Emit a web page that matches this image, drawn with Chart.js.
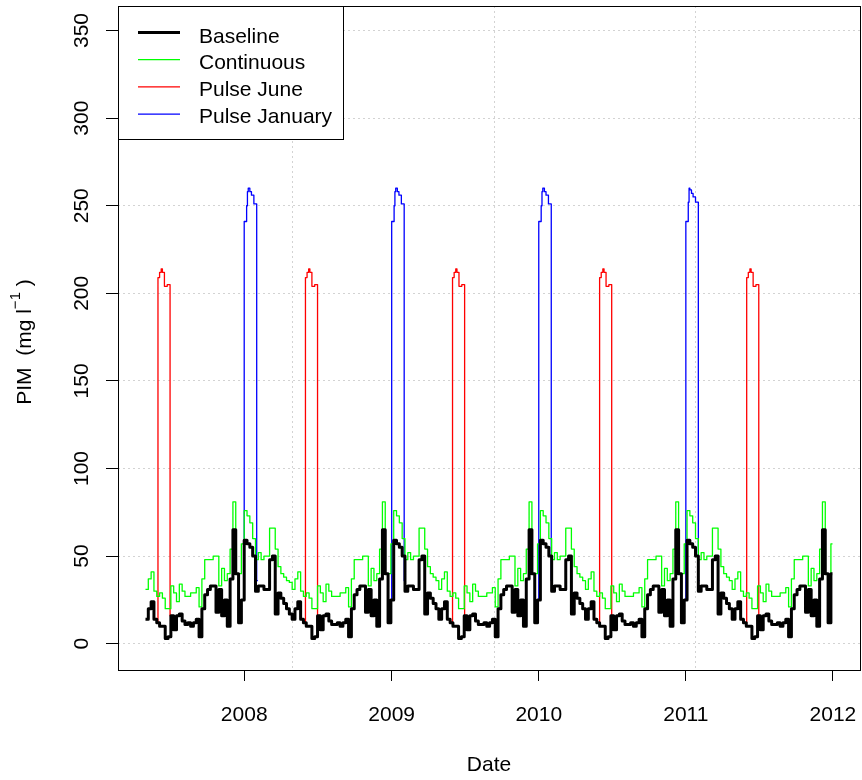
<!DOCTYPE html>
<html>
<head>
  <title>PIM scenarios</title>
  <script src="https://cdn.jsdelivr.net/npm/chart.js"></script>
  <style>
    body { margin: 0; background: #fff; }
    #wrap { width: 862px; height: 780px; }
  </style>
</head>
<body>
<div id="wrap"><canvas id="pim" width="862" height="780"></canvas></div>
<script>
// weekly values, first week starts on 1 May 2007, series stops 31 Dec 2011
var weekStart = '2007-05-01';
var seriesEnd = '2011-12-31';

var baseline = [
  // May 2007 - Apr 2008
  14, 20, 24, 14, 12, 10, 10, 3, 4, 16, 8, 16, 17, 13, 11, 12, 10, 12, 14, 4, 20, 28, 31, 33, 33, 18,
  31, 16, 25, 10, 37, 65, 40, 12, 25, 59, 57, 55, 50, 30, 33, 33, 31, 31, 48, 50, 17, 29, 26, 23, 20, 17,
  // May 2008 - Apr 2009
  14, 20, 24, 14, 12, 10, 10, 3, 4, 16, 8, 16, 17, 13, 11, 11, 12, 10, 12, 14, 4, 20, 28, 31, 33, 33,
  18, 31, 16, 25, 10, 37, 65, 40, 12, 25, 59, 57, 55, 50, 30, 33, 33, 31, 31, 48, 50, 17, 29, 26, 23, 20,
  // May 2009 - Apr 2010
  14, 20, 24, 14, 12, 10, 10, 3, 4, 16, 8, 16, 17, 13, 11, 11, 12, 10, 12, 14, 4, 20, 28, 31, 33, 33,
  18, 31, 16, 25, 10, 37, 65, 40, 12, 25, 59, 57, 55, 50, 30, 33, 33, 31, 31, 48, 50, 17, 29, 26, 23, 20,
  // May 2010 - Apr 2011
  14, 20, 24, 14, 12, 10, 10, 3, 4, 16, 8, 16, 17, 13, 11, 11, 12, 10, 12, 14, 4, 20, 28, 31, 33, 33,
  18, 31, 16, 25, 10, 37, 65, 40, 12, 25, 59, 57, 55, 50, 30, 33, 33, 31, 31, 48, 50, 17, 29, 26, 23, 20,
  // May 2011 - Dec 2011
  14, 20, 24, 14, 12, 10, 10, 3, 4, 16, 8, 16, 17, 13, 11, 11, 12, 10, 12, 14, 4, 20, 28, 31, 33, 33,
  18, 31, 16, 25, 10, 37, 65, 40, 12, 40
];

var continuous = [
  // May 2007 - Apr 2008
  31, 37, 41, 30, 27, 29, 26, 20, 20, 33, 29, 24, 34, 30, 27, 27, 29, 29, 32, 21, 37, 48, 48, 48, 50, 50,
  33, 43, 36, 40, 54, 81, 40, 40, 57, 76, 73, 69, 60, 48, 52, 48, 50, 50, 66, 66, 54, 44, 40, 38, 36, 35,
  // May 2008 - Apr 2009
  31, 37, 41, 30, 27, 29, 26, 20, 20, 33, 29, 24, 34, 30, 27, 27, 27, 29, 29, 32, 21, 37, 48, 48, 48, 50,
  50, 33, 43, 36, 40, 54, 81, 40, 40, 57, 76, 73, 69, 60, 48, 52, 48, 50, 50, 66, 66, 54, 44, 40, 38, 36,
  // May 2009 - Apr 2010
  31, 37, 41, 30, 27, 29, 26, 20, 20, 33, 29, 24, 34, 30, 27, 27, 27, 29, 29, 32, 21, 37, 48, 48, 48, 50,
  50, 33, 43, 36, 40, 54, 81, 40, 40, 57, 76, 73, 69, 60, 48, 52, 48, 50, 50, 66, 66, 54, 44, 40, 38, 36,
  // May 2010 - Apr 2011
  31, 37, 41, 30, 27, 29, 26, 20, 20, 33, 29, 24, 34, 30, 27, 27, 27, 29, 29, 32, 21, 37, 48, 48, 48, 50,
  50, 33, 43, 36, 40, 54, 81, 40, 40, 57, 76, 73, 69, 60, 48, 52, 48, 50, 50, 66, 66, 54, 44, 40, 38, 36,
  // May 2011 - Dec 2011
  31, 37, 41, 30, 27, 29, 26, 20, 20, 33, 29, 24, 34, 30, 27, 27, 27, 29, 29, 32, 21, 37, 48, 48, 48, 50,
  50, 33, 43, 36, 40, 54, 81, 40, 29, 57
];

// pulse scenarios: only the pulse month differs from the baseline
var juneStarts = ['2007-06-01', '2008-06-01', '2009-06-01', '2010-06-01', '2011-06-01'];
var juneDays = [-3, 0, 4, 8, 11, 16, 23, 30, 33];
var juneValues = [
  [12, 209, 212, 214, 212, 204, 205, 16, 16],
  [12, 209, 212, 214, 212, 204, 205, 16, 16],
  [12, 209, 212, 214, 212, 204, 205, 16, 16],
  [12, 209, 212, 214, 212, 204, 205, 16, 16],
  [12, 209, 212, 214, 212, 204, 205, 16, 16]
];

var janStarts = ['2008-01-01', '2009-01-01', '2010-01-01', '2011-01-01'];
var janDays = [-3, 0, 6, 8, 10, 14, 18, 24, 31, 34];
var janValues = [
  [25, 241, 250, 258, 260, 258, 256, 251, 36, 36],
  [25, 241, 250, 258, 260, 258, 256, 251, 36, 36],
  [25, 241, 250, 258, 260, 258, 256, 251, 36, 36],
  [25, 241, 252, 260, 259, 257, 255, 252, 36, 36]
];

var yearTicks = ['2008-01-01', '2009-01-01', '2010-01-01', '2011-01-01', '2012-01-01'];
var yearLabels = ['2008', '2009', '2010', '2011', '2012'];
var gridDays = [14000, 14500, 15000];   // R grid(): pretty values of days since 1970
var yTicks = [0, 50, 100, 150, 200, 250, 300, 350];
var yTickLabels = ['0', '50', '100', '150', '200', '250', '300', '350'];

var FONT = '"Liberation Sans", Arial, sans-serif';

function day(s) {
  return Date.parse(s) / 86400000;
}

function weekly(vals) {
  var t0 = day(weekStart);
  var pts = vals.map(function (v, i) { return {x: t0 + 7 * i, y: v}; });
  pts.push({x: day(seriesEnd), y: vals[vals.length - 1]});
  return pts;
}

function pulses(starts, offsets, rows) {
  var pts = [];
  starts.forEach(function (s, k) {
    var d0 = day(s);
    offsets.forEach(function (o, j) { pts.push({x: d0 + o, y: rows[k][j]}); });
    pts.push({x: d0 + offsets[offsets.length - 1] + 1, y: null});
  });
  return pts;
}

var first = day(weekStart), last = day(seriesEnd);
var xPad = 0.04 * (last - first);

var extras = {
  id: 'extras',
  afterDraw: function (chart) {
    var ctx = chart.ctx, a = chart.chartArea, xs = chart.scales.x, ys = chart.scales.y;
    ctx.save();

    // plot frame
    ctx.strokeStyle = '#000';
    ctx.lineWidth = 1;
    ctx.strokeRect(a.left + 0.5, a.top + 0.5, a.right - a.left, a.bottom - a.top);

    ctx.fillStyle = '#000';
    ctx.font = '21px ' + FONT;
    ctx.textAlign = 'center';
    ctx.textBaseline = 'middle';

    // x tick labels
    yearTicks.forEach(function (d, i) {
      ctx.fillText(yearLabels[i], xs.getPixelForValue(day(d)), a.bottom + 45);
    });

    // y tick labels, parallel to the axis
    yTicks.forEach(function (v, i) {
      ctx.save();
      ctx.translate(a.left - 36, ys.getPixelForValue(v));
      ctx.rotate(-Math.PI / 2);
      ctx.fillText(yTickLabels[i], 0, 0);
      ctx.restore();
    });

    // y title with superscript
    var p1 = 'PIM  (mg l', p2 = '\u22121', p3 = ' )';
    var w1 = ctx.measureText(p1).width, w3 = ctx.measureText(p3).width;
    ctx.font = '15px ' + FONT;
    var w2 = ctx.measureText(p2).width;
    ctx.save();
    ctx.translate(25, (a.top + a.bottom) / 2 + 4);
    ctx.rotate(-Math.PI / 2);
    ctx.textAlign = 'left';
    var sx = -(w1 + w2 + w3) / 2;
    ctx.font = '21px ' + FONT;
    ctx.fillText(p1, sx, 0);
    ctx.font = '15px ' + FONT;
    ctx.fillText(p2, sx + w1, -9);
    ctx.font = '21px ' + FONT;
    ctx.fillText(p3, sx + w1 + w2, 0);
    ctx.restore();

    // legend, top left inside the frame
    var L = a.left, T = a.top;
    ctx.fillStyle = '#fff';
    ctx.fillRect(L, T, 225, 133);
    ctx.strokeStyle = '#000';
    ctx.lineWidth = 1;
    ctx.strokeRect(L + 0.5, T + 0.5, 225, 133);
    ctx.font = '21px ' + FONT;
    ctx.textAlign = 'left';
    ctx.textBaseline = 'middle';
    chart.data.datasets.forEach(function (ds, i) {
      var ly = T + 26.5 + 27.2 * i;
      ctx.strokeStyle = ds.borderColor;
      ctx.lineWidth = ds.borderWidth;
      ctx.beginPath();
      ctx.moveTo(L + 20, ly);
      ctx.lineTo(L + 62, ly);
      ctx.stroke();
      ctx.fillStyle = '#000';
      ctx.fillText(ds.label, L + 81, T + 31 + 26.6 * i);
    });

    ctx.restore();
  }
};

Chart.defaults.font.family = FONT;

new Chart(document.getElementById('pim'), {
  type: 'line',
  data: {
    datasets: [
      {label: 'Baseline', data: weekly(baseline), borderColor: '#000000', borderWidth: 3},
      {label: 'Continuous', data: weekly(continuous), borderColor: '#00ff00', borderWidth: 1.3},
      {label: 'Pulse June', data: pulses(juneStarts, juneDays, juneValues), borderColor: '#ff0000', borderWidth: 1.3},
      {label: 'Pulse January', data: pulses(janStarts, janDays, janValues), borderColor: '#0000ff', borderWidth: 1.3}
    ]
  },
  options: {
    responsive: false,
    animation: false,
    devicePixelRatio: 1,
    layout: {padding: {top: 6, right: 2, left: 0, bottom: 0}},
    elements: {
      point: {radius: 0},
      line: {stepped: 'before', tension: 0, fill: false, borderJoinStyle: 'round'}
    },
    spanGaps: false,
    plugins: {
      legend: {display: false},
      tooltip: {enabled: false}
    },
    scales: {
      x: {
        type: 'linear',
        position: 'bottom',
        min: first - xPad,
        max: last + xPad,
        afterBuildTicks: function (s) {
          s.ticks = yearTicks.map(function (d) { return {value: day(d)}; });
        },
        afterFit: function (s) { s.height = 110; },
        grid: {drawOnChartArea: false, drawTicks: true, tickLength: 11, tickColor: '#000', tickWidth: 1},
        border: {display: false},
        ticks: {display: false},
        title: {display: true, text: 'Date', color: '#000', font: {size: 21}, padding: {top: 0, bottom: 2}}
      },
      xg: {
        type: 'linear',
        position: 'top',
        min: first - xPad,
        max: last + xPad,
        afterBuildTicks: function (s) {
          s.ticks = gridDays.map(function (v) { return {value: v}; });
        },
        afterFit: function (s) { s.height = 0; },
        grid: {color: '#d3d3d3', lineWidth: 1, drawTicks: false},
        border: {display: false, dash: [2, 3]},
        ticks: {display: false}
      },
      y: {
        type: 'linear',
        position: 'left',
        min: -15,
        max: 364,
        afterBuildTicks: function (s) {
          s.ticks = yTicks.map(function (v) { return {value: v}; });
        },
        afterFit: function (s) { s.width = 118; },
        grid: {color: '#d3d3d3', lineWidth: 1, drawTicks: true, tickLength: 12, tickColor: '#000', tickWidth: 1},
        border: {display: false, dash: [2, 3]},
        ticks: {display: false}
      }
    }
  },
  plugins: [extras]
});
</script>
</body>
</html>
